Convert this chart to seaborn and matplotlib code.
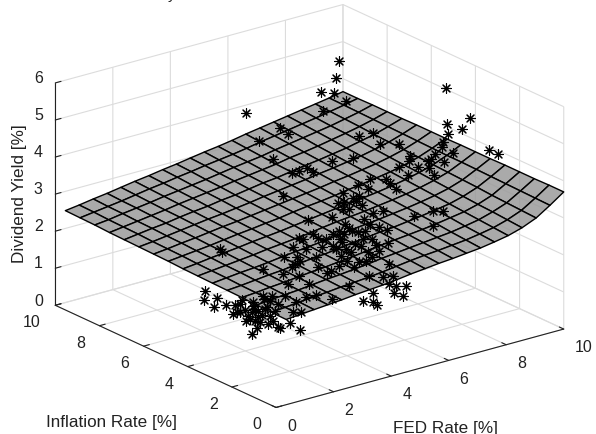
import numpy as np
import matplotlib
matplotlib.use("Agg")
import matplotlib.pyplot as plt
from matplotlib.transforms import Affine2D
import seaborn as sns

sns.set_theme(style="white")
plt.rcParams['font.family'] = ['Liberation Sans', 'DejaVu Sans']

# ---- surface ----
fed_grid = [.35,.83,1.32,1.8,2.28,2.76,3.25,3.73,4.21,4.69,5.18,5.66,6.14,6.62,7.11,7.59,8.07,8.55,9.04,9.52,10.0]
infl_grid = [0.0, 0.667, 1.333, 2.0, 2.667, 3.333, 4.0, 4.667, 5.333, 6.0, 6.667, 7.333, 8.0, 8.667, 9.333, 10.0]
yield_grid = [
    [2.30,2.33,2.36,2.39,2.42,2.46,2.49,2.52,2.56,2.61,2.65,2.69,2.72,2.76,2.80,2.86,2.93,3.04,3.20,3.44,3.70],
    [2.31,2.34,2.38,2.41,2.44,2.48,2.51,2.54,2.58,2.63,2.68,2.72,2.75,2.79,2.83,2.89,2.96,3.07,3.22,3.45,3.70],
    [2.32,2.36,2.39,2.42,2.46,2.50,2.53,2.57,2.61,2.66,2.70,2.74,2.78,2.82,2.86,2.92,2.99,3.10,3.24,3.46,3.69],
    [2.34,2.37,2.41,2.44,2.48,2.52,2.55,2.59,2.63,2.68,2.73,2.77,2.81,2.85,2.90,2.96,3.02,3.12,3.26,3.47,3.69],
    [2.35,2.38,2.42,2.46,2.49,2.54,2.58,2.61,2.66,2.71,2.75,2.80,2.83,2.88,2.93,2.99,3.05,3.15,3.29,3.48,3.69],
    [2.36,2.40,2.44,2.47,2.51,2.56,2.60,2.64,2.68,2.73,2.78,2.82,2.86,2.91,2.96,3.02,3.09,3.18,3.31,3.49,3.68],
    [2.37,2.41,2.45,2.49,2.53,2.58,2.62,2.66,2.70,2.76,2.81,2.85,2.89,2.94,2.99,3.05,3.12,3.21,3.33,3.50,3.68],
    [2.38,2.42,2.47,2.51,2.55,2.60,2.64,2.68,2.73,2.78,2.83,2.88,2.92,2.97,3.02,3.08,3.15,3.24,3.35,3.50,3.68],
    [2.40,2.44,2.48,2.52,2.57,2.62,2.66,2.71,2.75,2.81,2.86,2.90,2.95,3.01,3.06,3.12,3.18,3.26,3.37,3.51,3.67],
    [2.41,2.45,2.50,2.54,2.59,2.64,2.68,2.73,2.78,2.83,2.88,2.93,2.98,3.04,3.09,3.15,3.21,3.29,3.39,3.52,3.67],
    [2.42,2.46,2.51,2.56,2.61,2.66,2.70,2.75,2.80,2.86,2.91,2.96,3.01,3.07,3.12,3.18,3.24,3.32,3.41,3.53,3.67],
    [2.43,2.48,2.53,2.57,2.63,2.68,2.72,2.78,2.82,2.88,2.94,2.98,3.04,3.10,3.15,3.21,3.27,3.35,3.43,3.54,3.66],
    [2.44,2.49,2.54,2.59,2.64,2.70,2.75,2.80,2.85,2.91,2.96,3.01,3.06,3.13,3.18,3.24,3.31,3.38,3.46,3.55,3.66],
    [2.46,2.50,2.56,2.61,2.66,2.72,2.77,2.82,2.87,2.93,2.99,3.04,3.09,3.16,3.22,3.28,3.34,3.40,3.48,3.56,3.66],
    [2.47,2.52,2.57,2.62,2.68,2.74,2.79,2.85,2.90,2.96,3.01,3.06,3.12,3.19,3.25,3.31,3.37,3.43,3.50,3.57,3.65],
    [2.48,2.53,2.59,2.64,2.70,2.76,2.81,2.87,2.92,2.98,3.04,3.09,3.15,3.22,3.28,3.34,3.40,3.46,3.52,3.58,3.65],
]

# ---- observations, by inflation level ----
infl_a = 4.0
fed_a = [.59,.55,1.00,.93,1.32,1.63,1.56,1.80,1.87,2.26,2.22,2.01,2.43,2.50,2.40,2.22,2.85,2.68,2.85,3.20,3.13,3.55,2.33,2.08,1.70,2.75,2.95,2.43,2.26,3.13,2.92,2.61,3.37,3.65,3.93,3.76,3.90,4.10,4.45,5.01,4.21,3.48,3.86,3.30,2.61,3.72,3.34,3.79,3.65,1.11,1.18,3.86,3.30,4.84,4.52,4.98,5.60,5.25,
         1.98,2.15,2.57,2.64,3.02,1.80,2.78,2.33]
div_a = [1.91,1.68,1.63,1.41,1.38,1.31,1.08,1.09,1.39,1.26,1.00,.80,.82,.67,.53,.40,.76,.98,1.16,.36,.40,.42,1.06,.92,1.11,1.02,.60,.98,1.15,1.02,1.28,1.35,1.19,.70,.64,.94,.16,1.01,.99,.76,1.34,1.49,1.62,1.80,2.08,1.98,2.25,2.15,2.45,2.94,2.84,2.65,3.91,1.50,1.73,1.52,.99,1.60,
         1.10,.82,.84,1.26,.86,1.30,.56,.73]

infl_b = 5.0
fed_b = [4.88,5.23,5.12,5.30,4.95,5.82,6.03,6.38,6.69,6.90,7.11,7.42,7.70,7.74,6.86,6.79,7.04,5.82,5.92,6.10,6.45,6.72,7.42,7.77,6.06,5.78,6.17,6.72,6.52,5.99,6.20,6.83,6.62,6.17,6.38,7.21,7.56,8.64,9.30,9.65,9.30,7.11,7.67,7.80,6.69,7.04,8.01,6.52,6.72,7.21,7.46,8.12,8.50,8.47,9.13,9.23,9.69,9.16,8.78,8.12,8.43,9.34,9.37,9.76,9.79,9.83,9.65,9.62,10.0,
         6.24,6.48,6.13,6.27,6.59,7.18,7.32,5.57,5.44,6.31,6.55,6.97,7.18,6.20,6.93,4.67,4.77,4.39]
div_b = [1.86,1.57,2.22,2.07,2.63,2.07,2.11,2.11,1.94,2.25,2.07,1.92,1.78,1.42,1.71,1.54,1.33,1.75,1.64,1.42,1.45,1.12,1.27,.85,1.89,2.54,3.11,2.91,2.90,2.87,2.86,2.64,2.79,2.67,2.63,2.34,2.33,1.96,1.96,1.89,1.55,3.29,3.17,3.03,3.21,3.03,2.83,3.98,4.53,4.51,4.16,4.02,3.61,3.49,3.35,3.38,3.20,3.15,3.26,3.40,3.11,2.92,3.49,5.19,4.21,3.93,3.75,3.62,3.38,
         2.25,2.01,1.79,1.57,1.64,1.65,1.46,1.99,1.80,1.24,1.03,1.10,1.16,1.99,1.92,1.59,2.16,1.48]

infl_c = 2.0
fed_c = [8.27,7.99,8.93,9.25]
div_c = [5.52,5.28,4.51,4.34]

infl_d = 3.0
fed_d = [5.67,5.32,5.67,5.80,6.22,6.47,6.82,6.40,6.71,5.53,6.01,6.36]
div_d = [1.06,.92,.82,.71,1.19,1.08,1.01,.91,.76,1.55,1.42,1.37]

infl_e = 8.0
fed_e = [5.11,6.29,6.54,5.56,6.05,6.68,6.92,8.31,8.24,7.69,8.17,8.56,7.76,7.23,7.41,8.10]
div_e = [4.66,4.01,3.80,3.81,3.22,2.71,2.72,5.39,4.95,4.69,4.56,4.24,4.14,2.73,2.59,2.74]

ticks_xy = [0, 2, 4, 6, 8, 10]
ticks_z = [0, 1, 2, 3, 4, 5, 6]

fig = plt.figure(figsize=(5.96, 4.35), dpi=100)
W, H = 596.0, 435.0
S = 800.0
ax = fig.add_axes([-101.3 / W, -182.8 / H, S / W, S / H], projection='3d',
                  proj_type='ortho', computed_zorder=False)
ax.patch.set_alpha(0)
ax.set_box_aspect((1, 1, 0.656), zoom=0.686)
ax.view_init(elev=20.8, azim=-127.5)

X, Y = np.meshgrid(fed_grid, infl_grid)
surf = ax.plot_surface(X, Y, np.array(yield_grid), rstride=1, cstride=1, shade=False,
                       color='#9b9b9b', linewidth=1.0, zorder=2)
surf.set_facecolor((0.608, 0.608, 0.608, 0.85))
surf.set_edgecolor('black')

for fx, iy, dz in [(fed_a, infl_a, div_a), (fed_b, infl_b, div_b), (fed_c, infl_c, div_c),
                   (fed_d, infl_d, div_d), (fed_e, infl_e, div_e)]:
    ax.scatter(fx, [iy] * len(fx), dz, marker=(8, 2, 0), s=50, c='black',
               linewidths=0.8, depthshade=False, zorder=3)

ax.set_xlim(0, 10)
ax.set_ylim(0, 10)
ax.set_zlim(0, 6)
ax.set_xticks(ticks_xy)
ax.set_yticks(ticks_xy)
ax.set_zticks(ticks_z)

for axis in (ax.xaxis, ax.yaxis, ax.zaxis):
    axis.set_pane_color((1, 1, 1, 0))
    axis.pane.set_edgecolor('#cfcfcf')
    axis.pane.set_linewidth(0.8)
    axis.line.set_color('#222222')
    axis.line.set_linewidth(0.8)
    axis._axinfo['grid'].update(color='#dcdcdc', linewidth=0.8, linestyle='-')
    axis._axinfo['tick'].update(inward_factor=0.0, outward_factor=0.25, linewidth={True: 0.8, False: 0.5})
    axis.set_rotate_label(False)
ax.grid(True)
ax.tick_params(axis='x', labelsize=11.5, colors='#222222', pad=7)
ax.tick_params(axis='y', labelsize=11.5, colors='#222222', pad=7)
ax.tick_params(axis='z', labelsize=11.5, colors='#222222', pad=2)
for lab in ax.get_xticklabels():
    lab.set_ha('left')
    lab.set_va('center_baseline')
for lab in ax.get_yticklabels():
    lab.set_ha('right')
    lab.set_va('center_baseline')
for lab in ax.get_zticklabels():
    lab.set_va('baseline')

ax.set_xlabel('FED Rate [%]', fontsize=12.3, color='#222222', rotation=0, labelpad=29)
ax.set_ylabel('Inflation Rate [%]', fontsize=12.3, color='#222222', rotation=0, labelpad=48)
ax.set_zlabel('Dividend Yield [%]', fontsize=12.3, color='#222222', rotation=90, labelpad=0.4)


def nudge(label, dx, dy):
    """Axis3D resets the label transform on each draw, so offset it at draw time."""
    original = label.draw

    def draw(renderer):
        label._transform = ax.transData + Affine2D().translate(dx, dy)
        original(renderer)

    label.draw = draw


nudge(ax.xaxis.label, -11, -5)
nudge(ax.yaxis.label, 12, 4)

# the figure's title is cut by the top edge: only a descender shows
fig.text(168 / W, 1 + 1.0 / H, 'y', fontsize=11, color='#222222', va='baseline')

fig.savefig('out.png', dpi=100)
